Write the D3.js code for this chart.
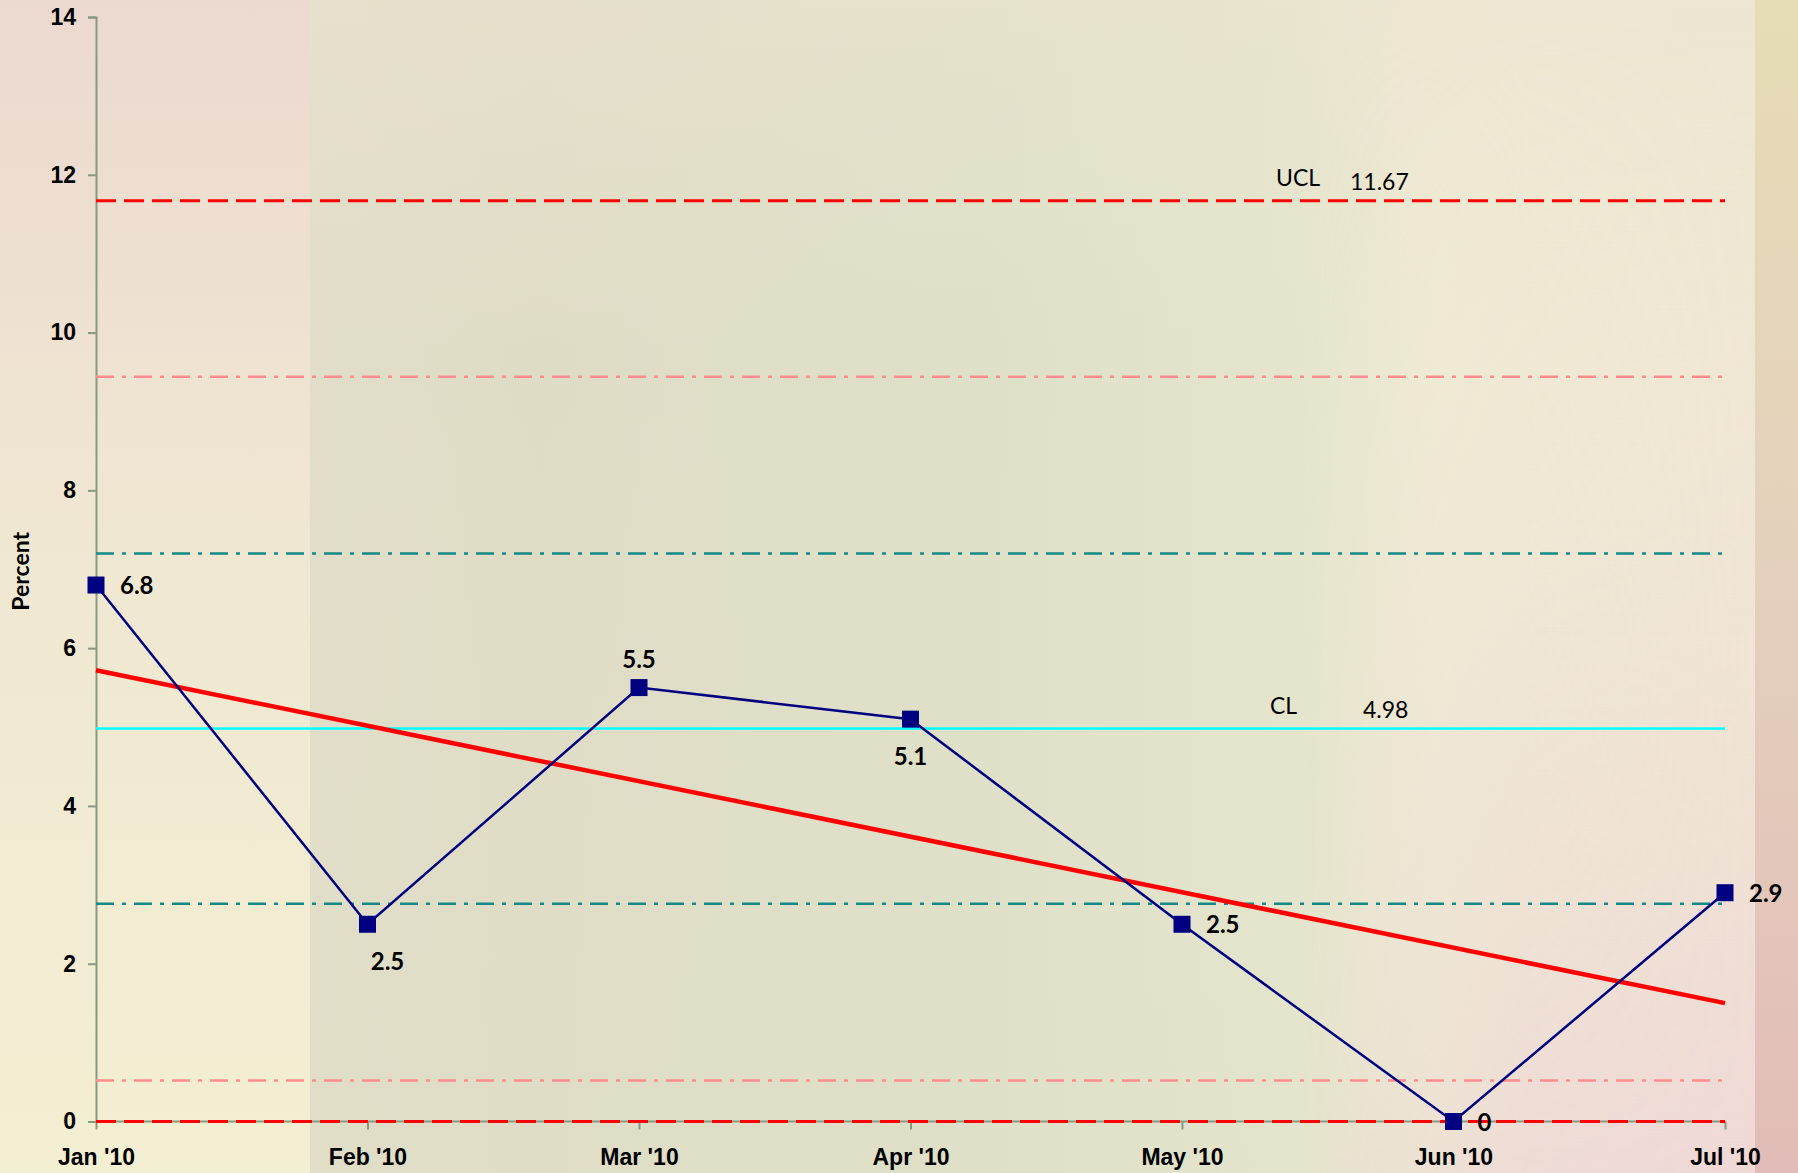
<!DOCTYPE html>
<html>
<head>
<meta charset="utf-8">
<script src="https://cdn.jsdelivr.net/npm/d3@7"></script>
<style>
  html, body { margin: 0; padding: 0; background: #efe6d2; }
  svg { display: block; font-family: Lato, "Noto Sans", sans-serif; }
</style>
</head>
<body>
<div id="chart"></div>
<script>
// data
const months = ["Jan '10", "Feb '10", "Mar '10", "Apr '10", "May '10", "Jun '10", "Jul '10"];
const percent = [6.8, 2.5, 5.5, 5.1, 2.5, 0, 2.9];
const yTicks = [0, 2, 4, 6, 8, 10, 12, 14];
// control limits
const cl = 4.98;
const ucl = 11.67;
const lcl = 0;
const sigma1 = [2.76, 7.2];     // teal dash-dot
const sigma2 = [0.52, 9.44];    // pink dash-dot
// linear trend, start and end
const trend = [5.72, 1.5];
// label placement per point: r = right, br = below right, b = below, t = top
const labelPos = ["r", "br", "t", "b", "r", "r", "r"];

const W = 1798, H = 1173;
const mLeft = 96, mRight = 1725, mTop = 17, mBottom = 1121.5;

const svg = d3.select("#chart").append("svg")
  .attr("width", W)
  .attr("height", H);

// background
const defs = svg.append("defs");
function grad(id, vertical, stops) {
  const g = defs.append("linearGradient").attr("id", id)
    .attr("x1", 0).attr("y1", 0)
    .attr("x2", vertical ? 0 : 1).attr("y2", vertical ? 1 : 0);
  stops.forEach(s => g.append("stop").attr("offset", s[0]).attr("stop-color", s[1])
    .attr("stop-opacity", s.length > 2 ? s[2] : 1));
}
grad("bgH", false, [[0, "#e3dfcb"], [0.3, "#dfdcc6"], [0.55, "#dfe0c8"], [0.72, "#e5e5cd"], [0.8, "#efebd5"], [1, "#f0e6d4"]]);
grad("bgL", true, [[0, "#ecd9d0"], [0.5, "#f0e8d2"], [1, "#f3efd2"]]);
grad("bgR", true, [[0, "#f3edd0", 0], [0.45, "#f0e4d4", 0.4], [1, "#efd8d6", 1]]);
grad("bgRm", false, [[0, "#fff", 0], [0.5, "#fff", 0.8], [1, "#fff", 1]]);
grad("bgS", true, [[0, "#e6dcb6"], [0.5, "#e4d0bc"], [1, "#e2bcb8"]]);
grad("bgT", true, [[0, "#ece4d0", 0.5], [0.3, "#ece4d0", 0], [1, "#dfe0c6", 0.2]]);
defs.append("mask").attr("id", "rmask")
  .append("rect").attr("x", 1300).attr("width", 455).attr("height", H).attr("fill", "url(#bgRm)");

svg.append("rect").attr("width", W).attr("height", H).attr("fill", "url(#bgH)");
svg.append("rect").attr("width", W).attr("height", H).attr("fill", "url(#bgT)");
svg.append("rect").attr("x", 1300).attr("width", 455).attr("height", H)
  .attr("fill", "url(#bgR)").attr("mask", "url(#rmask)");
svg.append("rect").attr("width", 310).attr("height", H).attr("fill", "url(#bgL)");
svg.append("rect").attr("x", 1755).attr("width", W - 1755).attr("height", H).attr("fill", "url(#bgS)");

// scales
const x = d3.scalePoint().domain(months).range([mLeft, mRight]);
const y = d3.scaleLinear().domain([0, 14]).range([mBottom, mTop]);

// axes
const axisColor = "#869a82";
const yAxis = svg.append("g")
  .attr("transform", `translate(${mLeft},0)`)
  .call(d3.axisLeft(y).tickValues(yTicks).tickSize(8).tickPadding(12).tickFormat(d3.format("d")));
const xAxis = svg.append("g")
  .attr("transform", `translate(0,${mBottom})`)
  .call(d3.axisBottom(x).tickSize(8).tickPadding(10));
[yAxis, xAxis].forEach(a => {
  a.select(".domain").attr("stroke", axisColor).attr("stroke-width", 2);
  a.selectAll(".tick line").attr("stroke", axisColor).attr("stroke-width", 2);
  a.selectAll(".tick text").attr("fill", "#000").style("font-size", "23px").style("font-weight", "bold");
});
xAxis.select(".domain").attr("d", `M${mLeft},0H${mRight}`);
xAxis.selectAll(".tick text").attr("dy", "1.1em");

svg.append("text")
  .attr("transform", `translate(29,${(mTop + mBottom) / 2 + 2}) rotate(-90)`)
  .attr("text-anchor", "middle")
  .style("font-size", "23px")
  .style("font-weight", "bold")
  .text("Percent");

// control lines
function hline(v, color, width, dash) {
  svg.append("line")
    .attr("x1", mLeft).attr("x2", mRight)
    .attr("y1", y(v)).attr("y2", y(v))
    .attr("stroke", color)
    .attr("stroke-width", width)
    .attr("stroke-dasharray", dash);
}
sigma2.forEach(v => hline(v, "#ff8c8c", 2.5, "18,8,4,8"));
sigma1.forEach(v => hline(v, "#138a86", 2.5, "18,8,4,8"));
hline(cl, "#00ffff", 2.5, null);
hline(ucl, "#ff0000", 3, "20,8");
hline(lcl, "#ff0000", 3, "20,8");

// limit labels
const limTxt = [["UCL", 1276, ucl, 15], ["11.67", 1350, ucl, 11], ["CL", 1270, cl, 15], ["4.98", 1363, cl, 11]];
svg.selectAll(".lim")
  .data(limTxt)
  .enter()
  .append("text")
  .attr("class", "lim")
  .attr("x", d => d[1])
  .attr("y", d => y(d[2]) - d[3])
  .style("font-size", "23px")
  .attr("fill", "#000")
  .text(d => d[0]);

// trend line
svg.append("line")
  .attr("x1", x(months[0])).attr("x2", x(months[months.length - 1]))
  .attr("y1", y(trend[0])).attr("y2", y(trend[1]))
  .attr("stroke", "#ff0000")
  .attr("stroke-width", 4.5);

// data line
const line = d3.line().x((d, i) => x(months[i])).y(d => y(d));
svg.append("path")
  .datum(percent)
  .attr("d", line)
  .attr("fill", "none")
  .attr("stroke", "#000080")
  .attr("stroke-width", 2.5);

const ms = 17;
svg.selectAll(".pt")
  .data(percent)
  .enter()
  .append("rect")
  .attr("class", "pt")
  .attr("x", (d, i) => x(months[i]) - ms / 2)
  .attr("y", d => y(d) - ms / 2)
  .attr("width", ms)
  .attr("height", ms)
  .attr("fill", "#000080");

const dx = { r: 24, br: 20, b: 0, t: 0 };
const dy = { r: 9, br: 46, b: 46, t: -20 };
svg.selectAll(".lbl")
  .data(percent)
  .enter()
  .append("text")
  .attr("class", "lbl")
  .attr("x", (d, i) => x(months[i]) + dx[labelPos[i]])
  .attr("y", (d, i) => y(d) + dy[labelPos[i]])
  .attr("text-anchor", (d, i) => labelPos[i] === "r" ? "start" : "middle")
  .style("font-size", "24px")
  .style("font-weight", "bold")
  .attr("fill", "#000")
  .text(d => d);
</script>
</body>
</html>
